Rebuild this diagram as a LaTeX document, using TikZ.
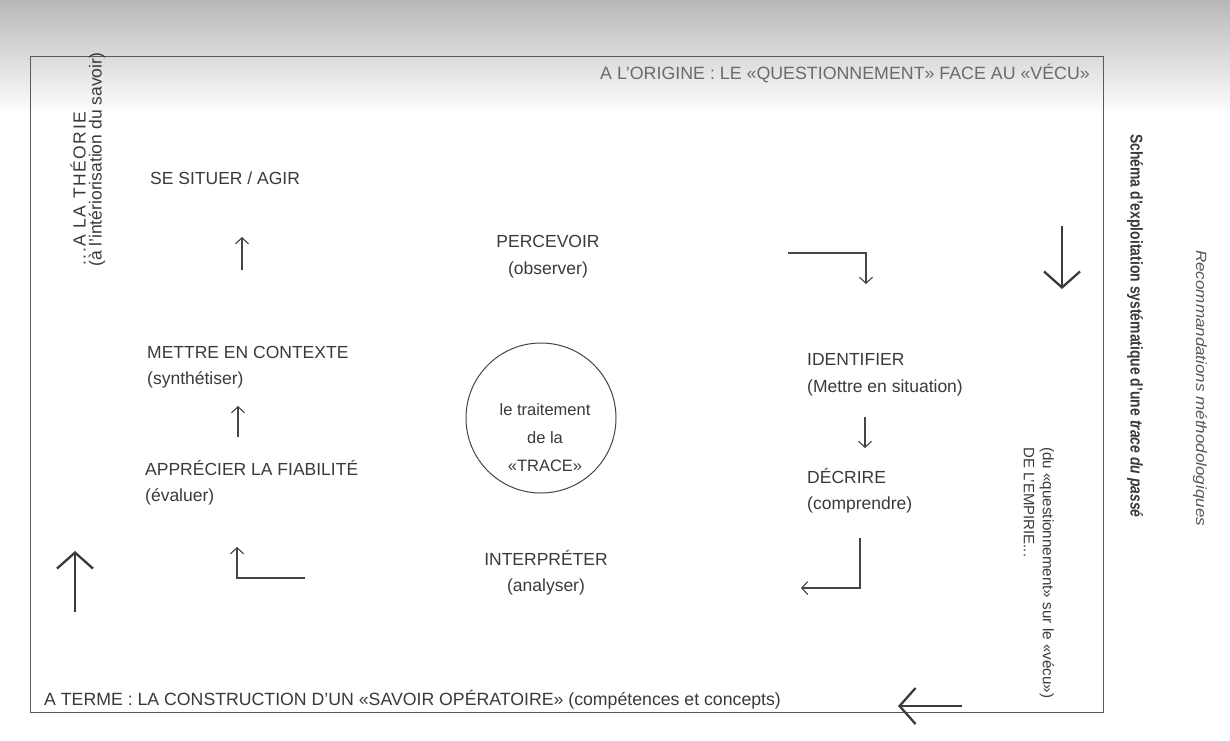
\documentclass[tikz,border=0pt]{standalone}
\usepackage{fontspec}
\setmainfont{Liberation Sans}
\usetikzlibrary{arrows.meta}
\definecolor{ink}{HTML}{3A3A3A}
\definecolor{lineink}{HTML}{454545}
\begin{document}
\begin{tikzpicture}[x=1pt,y=-1pt,
  lbl/.style={font=\fontsize{17.5}{20}\selectfont, text=ink, inner sep=0pt, anchor=west},
  thinarrow/.style={draw=lineink, line width=1.1pt, -{Straight Barb[length=6pt,width=13pt]}},
  bigarrow/.style={draw=ink, line width=2.3pt, -{Straight Barb[length=16pt,width=36pt]}},
]
\useasboundingbox (0,0) rectangle (1230,740);
\fill[white] (0,0) rectangle (1230,740);
\shade[top color=black!28, bottom color=white] (0,0) rectangle (1230,115);
% frame
\draw[black!65, line width=0.9pt] (30,56) rectangle (1103,712);

% header and footer
\node[lbl, text=ink!75, font=\fontsize{17.8}{20}\selectfont] (origine) at (600,73) {A L'ORIGINE : LE «QUESTIONNEMENT» FACE AU «VÉCU»};
\node[lbl, font=\fontsize{17.7}{20}\selectfont] (terme) at (44,700) {A TERME : LA CONSTRUCTION D'UN «SAVOIR OPÉRATOIRE» (compétences et concepts)};

% left vertical texts
\node[lbl, rotate=90, font=\fontsize{17.5}{21}\selectfont\addfontfeature{LetterSpace=9}] (theorie) at (78,266) {...A LA THÉORIE};
\node[lbl, rotate=90] (interio) at (97,267) {(à l'intériorisation du savoir)};

% right vertical texts
\node[lbl, rotate=-90, font=\fontsize{15}{18}\selectfont] (empirie) at (1029,447) {DE L'EMPIRIE...};
\node[lbl, rotate=-90, font=\fontsize{15.2}{18}\selectfont] (questvecu) at (1047,447) {(du «questionnement» sur le «vécu»)};
\node[lbl, rotate=-90, font=\fontsize{17}{20}\selectfont\bfseries] (titre) at (1135,134) {\scalebox{0.82}[1]{Schéma d'exploitation systématique d'une \textit{trace du passé}}};
\node[lbl, rotate=-90, text=ink!85, font=\fontsize{16.5}{19}\selectfont\itshape] (recom) at (1200,250) {\scalebox{1.03}[0.9]{Recommandations méthodologiques}};

% left column
\node[lbl] (situer) at (150,178) {SE SITUER / AGIR};
\node[lbl] (contexte) at (147,352) {METTRE EN CONTEXTE};
\node[lbl] (synth) at (147,380) {(synthétiser)};
\node[lbl] (fiab) at (145,468) {APPRÉCIER LA FIABILITÉ};
\node[lbl] (eval) at (145,497) {(évaluer)};

% centre column
\node[lbl, anchor=center] (percevoir) at (548,241) {PERCEVOIR};
\node[lbl, anchor=center] (observer) at (548,270) {(observer)};
\node[circle, draw=lineink, line width=1pt, minimum size=150pt, inner sep=0pt] (trace) at (541,418) {};
\node[lbl, anchor=center, align=center, font=\fontsize{16.5}{28}\selectfont] (tracetxt) at (545,438) {le traitement\\de la\\«TRACE»};
\node[lbl, anchor=center] (interp) at (546,558) {INTERPRÉTER};
\node[lbl, anchor=center] (analyser) at (546,587) {(analyser)};

% right column
\node[lbl] (ident) at (807,359) {IDENTIFIER};
\node[lbl] (situation) at (807,388) {(Mettre en situation)};
\node[lbl] (decrire) at (807,476) {DÉCRIRE};
\node[lbl] (compr) at (807,505) {(comprendre)};

% connector end points
\coordinate (upAs) at (242,270);
\coordinate (upAe) at (242,237);
\coordinate (upBs) at (238,437);
\coordinate (upBe) at (238,406);
\coordinate (bendLs) at (305,578);
\coordinate (bendLe) at (237,547);
\coordinate (bendTs) at (788,253);
\coordinate (bendTe) at (866,284);
\coordinate (downCs) at (865,417);
\coordinate (downCe) at (865,448);
\coordinate (bendRs) at (860,538);
\coordinate (bendRe) at (801,588);
\coordinate (bigDs) at (1062,226);
\coordinate (bigDe) at (1062,289);
\coordinate (bigUs) at (75,612);
\coordinate (bigUe) at (75,551);
\coordinate (bigLs) at (962,706);
\coordinate (bigLe) at (898,706);

% thin connectors
\draw[thinarrow] (upAs) -- (upAe);
\draw[thinarrow] (upBs) -- (upBe);
\draw[thinarrow] (bendLs) -| (bendLe);
\draw[thinarrow] (bendTs) -| (bendTe);
\draw[thinarrow] (downCs) -- (downCe);
\draw[thinarrow] (bendRs) |- (bendRe);

% big arrows
\draw[bigarrow] (bigDs) -- (bigDe);
\draw[bigarrow] (bigUs) -- (bigUe);
\draw[bigarrow] (bigLs) -- (bigLe);
\end{tikzpicture}
\end{document}
